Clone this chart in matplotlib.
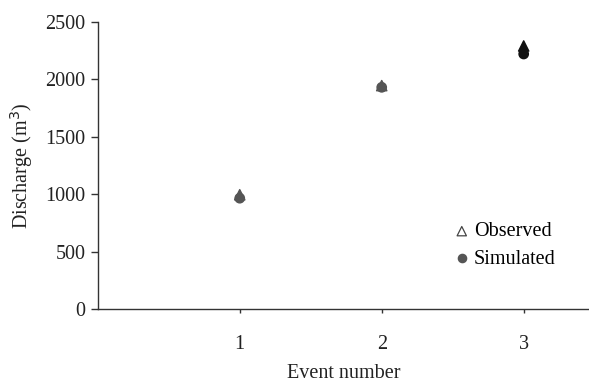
import matplotlib
matplotlib.use("Agg")
from matplotlib import pyplot as plt
import numpy as np

# values
events = [1, 2, 3]
observed = [995, 1945, 2290]
simulated = [965, 1930, 2220]
point_colors = ['#555555', '#555555', '#111111']

plt.rcParams['font.family'] = ['Liberation Serif', 'DejaVu Serif']

fig = plt.figure(figsize=(5.89, 3.83), dpi=100)
ax = fig.add_axes([0.166, 0.193, 0.834, 0.750])

ax.scatter(events, simulated, marker='o', s=45, c=point_colors, zorder=3)
ax.scatter(events, observed, marker='^', s=55, c=point_colors, zorder=4)

# legend handles (gray, as in the reference)
h1 = ax.scatter([], [], marker='^', s=45, facecolors='none', edgecolors='#444444', linewidths=0.9)
h2 = ax.scatter([], [], marker='o', s=35, c='#555555')
ax.legend([h1, h2], ['Observed', 'Simulated'], frameon=False, fontsize=14.5,
          handletextpad=0.0, labelspacing=0.4, borderaxespad=0, handlelength=1.2,
          loc='upper left', bbox_to_anchor=(0.70, 0.33))

ax.set_xlim(0, 3.46)
ax.set_ylim(0, 2500)
ax.set_xticks(events)
ax.set_yticks(np.arange(0, 2501, 500))

for s in ['top', 'right']:
    ax.spines[s].set_visible(False)
for s in ['left', 'bottom']:
    ax.spines[s].set_color('#333333')
    ax.spines[s].set_linewidth(1.0)

ax.tick_params(axis='y', direction='out', length=5, width=1, colors='#333333',
               labelsize=14.5, labelcolor='#222222', pad=4)
ax.tick_params(axis='x', direction='out', length=3, width=1, colors='#333333',
               labelsize=14.5, labelcolor='#222222', pad=16)

ax.set_xlabel('Event number', fontsize=14.5, color='#222222', labelpad=7)
ax.set_ylabel('Discharge (m$^3$)', fontsize=14.5, color='#222222', labelpad=7)

fig.savefig('out.png', dpi=100)
